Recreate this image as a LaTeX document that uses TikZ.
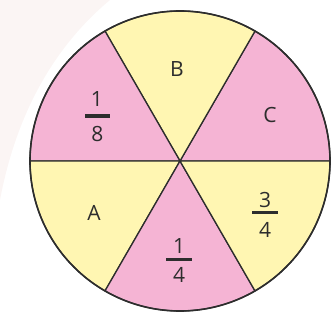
\documentclass[tikz,border=0pt]{standalone}
\usepackage{fontspec}
\setmainfont{Open Sans}
\definecolor{sectpink}{RGB}{245,180,212}
\definecolor{sectyellow}{RGB}{255,246,178}
\definecolor{inkgray}{RGB}{45,45,45}
\definecolor{bgblush}{RGB}{251,245,244}
\begin{document}
\begin{tikzpicture}[x=1pt,y=1pt,
  sector/.style={draw=inkgray,line width=1.3pt,line join=round},
  lbl/.style={text=inkgray,font=\fontsize{21}{24}\selectfont,inner sep=0pt},
  fracbar/.style={fill=inkgray}]
\useasboundingbox (0,0) rectangle (331,320);
\fill[bgblush] (0,320) -- (110,320) .. controls (50,270) and (15,200) .. (0,120) -- cycle;
\coordinate (O) at (180,159);
\foreach \a/\c in {0/sectpink,60/sectyellow,120/sectpink,180/sectyellow,240/sectpink,300/sectyellow}
  \filldraw[sector, fill=\c] (O) -- ++(\a:150) arc[start angle=\a, end angle=\a+60, radius=150] -- cycle;
\draw[inkgray, line width=1.6pt] (O) circle[radius=150];
% letters
\node[lbl] (labB) at (177,251) {B};
\node[lbl] (labC) at (270,204.5) {C};
\node[lbl] (labA) at (94,107.5) {A};
% 1/8
\node[lbl] (n18) at (97,220.5) {1};
\fill[fracbar] (85,201.7) rectangle (110,205.7);
\node[lbl] (d18) at (97.5,186) {8};
% 1/4
\node[lbl] (n14) at (179,74) {1};
\fill[fracbar] (166.3,59) rectangle (191.7,62);
\node[lbl] (d14) at (179,45) {4};
% 3/4
\node[lbl] (n34) at (265,119.5) {3};
\fill[fracbar] (251.7,106) rectangle (278.3,109);
\node[lbl] (d34) at (265,90.5) {4};
\end{tikzpicture}
\end{document}
